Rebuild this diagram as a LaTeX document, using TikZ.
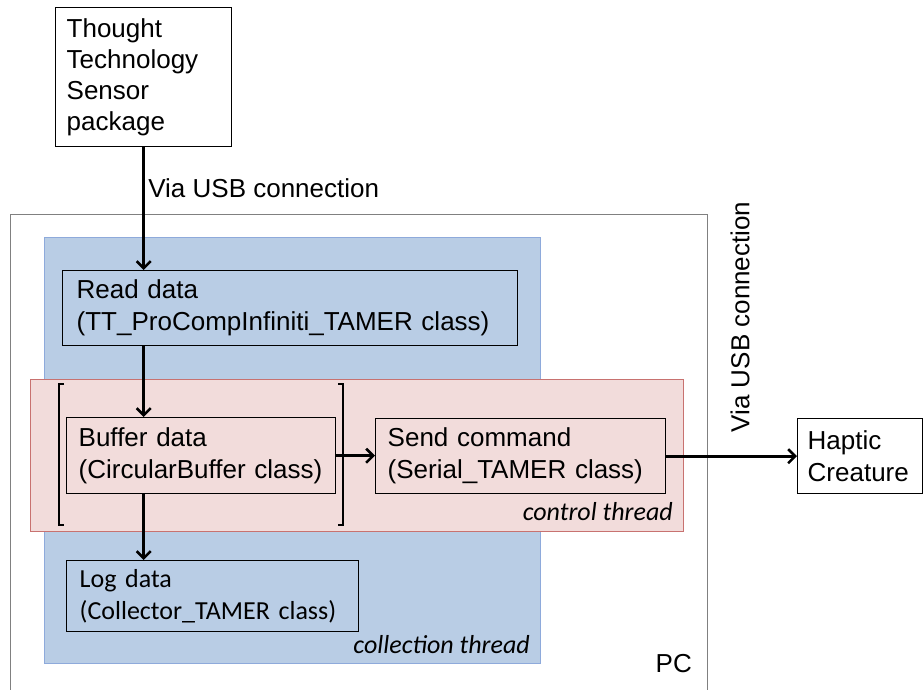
\documentclass[tikz,border=0pt]{standalone}
\usepackage{fontspec}
\setmainfont{Liberation Sans}
\newfontfamily\calibri{Carlito}
\usepackage{tikz}
\usetikzlibrary{arrows.meta}

\definecolor{threadblue}{HTML}{B9CDE5}
\definecolor{threadblueline}{HTML}{8EAADB}
\definecolor{threadpink}{HTML}{F2DCDB}
\definecolor{threadpinkline}{HTML}{C87270}
\definecolor{pcgray}{HTML}{808080}

\begin{document}
\begin{tikzpicture}[x=1pt,y=-1pt,>={Straight Barb[length=7pt,width=14pt]},
  every node/.style={font=\fontsize{26}{32}\selectfont},
  box/.style={draw, line width=1.4pt, anchor=north west, align=left, inner ysep=0pt},
  region/.style={anchor=north west, line width=1pt, inner sep=0pt},
  link/.style={->, line width=2.6pt},
  tag/.style={font=\calibri\itshape\fontsize{26}{32}\selectfont, inner sep=0pt},
  bracket/.style={line width=2.8pt}]
  \useasboundingbox (0,0) rectangle (923,690);

  % PC frame, runs off the bottom
  \draw[pcgray, line width=0.8pt] (10,690) -- (10,214) -- (707,214) -- (707,690);
  \node[anchor=base east, inner sep=0pt] (pc) at (692,672) {PC};

  % collection thread
  \node[region, fill=threadblue, draw=threadblueline, minimum width=496pt, minimum height=426pt] (collect) at (44,237) {};
  \node[tag, anchor=base east] (collecttag) at (530,653) {collection thread};

  \node[box, text width=154pt, minimum height=139pt, inner xsep=11pt, font=\fontsize{26}{31}\selectfont] (sensor) at (55,7) {Thought\\Technology\\Sensor\\package};
  \node[box, text width=427pt, minimum height=75pt, inner xsep=14pt] (read) at (62,270) {Read data\\(TT\_ProCompInfiniti\_TAMER class)};

  % control thread
  \node[region, fill=threadpink, draw=threadpinkline, minimum width=653pt, minimum height=152pt] (control) at (30,379) {};
  \node[tag, anchor=base east] (controltag) at (673,520) {control thread};

  \node[box, text width=245pt, minimum height=76pt, inner xsep=12pt] (buffer) at (66,417) {Buffer data\\(CircularBuffer class)};
  \node[box, text width=266pt, minimum height=75pt, inner xsep=12pt] (send) at (375,418) {Send command\\(Serial\_TAMER class)};
  \node[box, text width=105pt, minimum height=75pt, inner xsep=10pt] (haptic) at (797,418) {Haptic\\Creature};
  \node[box, font=\calibri\fontsize{26}{32}\selectfont, text width=266pt, minimum height=71pt, inner xsep=13pt] (log) at (66,560) {Log data\\(Collector\_TAMER class)};

  \draw[bracket] (64,384) -| (59,525) -- (64,525);
  \draw[bracket] (338,384) -| (343,525) -- (338,525);

  \draw[link] (sensor.south) -- node[right, pos=0.33] (usbin) {Via USB connection} (sensor.south |- read.north);
  \draw[link] (sensor.south |- read.south) -- (sensor.south |- buffer.north);
  \draw[link] (sensor.south |- buffer.south) -- (sensor.south |- log.north);
  \draw[link] (buffer.east) -- (buffer.east -| send.west);
  \draw[link] (send.east) -- (send.east -| haptic.west);
  \node[rotate=90] (usbout) at (740,317) {Via USB connection};
\end{tikzpicture}
\end{document}
